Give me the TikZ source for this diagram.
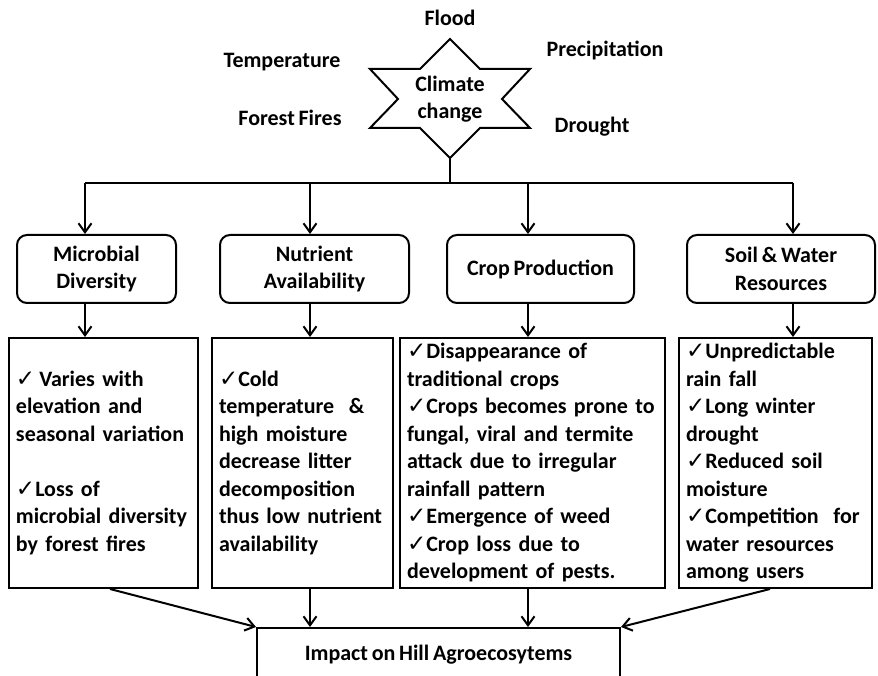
\documentclass[tikz,border=0pt]{standalone}
\usepackage{fontspec}
\setmainfont{Carlito}
\newfontfamily\symfont{DejaVu Sans}
\usetikzlibrary{arrows.meta}

\newcommand{\tick}{{\symfont\mdseries\fontsize{23}{23}\selectfont ✓}}
\newcommand{\tightwords}{\spaceskip=0.17em plus 0.1em minus 0.05em\relax}

\begin{document}
\begin{tikzpicture}[x=1pt, y=-1pt,
    every node/.style={font=\bfseries\fontsize{22}{27.5}\selectfont\tightwords},
    arr/.style={-{Straight Barb[length=9pt,width=13pt]}, line width=2pt},
    head/.style={draw, line width=2pt, rounded corners=10pt, align=center,
                 minimum height=68pt, inner sep=0pt},
    detail/.style={draw, line width=2pt, align=left, minimum height=250pt,
                   inner xsep=7pt, inner ysep=0pt}]

    \useasboundingbox (0,0) rectangle (878,676);

    % Climate change star
    \draw[line width=2pt] (450,39) -- (480,69) -- (530,69) -- (502,99)
        -- (530,128) -- (480,128) -- (450,158) -- (420,128) -- (370,128)
        -- (398,99) -- (370,69) -- (420,69) -- cycle;
    \node[align=center] (climate) at (450,99) {Climate\\change};
    \coordinate (starbot) at (450,158);

    % Drivers round the star
    \node (flood) at (450,18) {Flood};
    \node (temp) at (282,62) {Temperature};
    \node (precip) at (605,50) {Precipitation};
    \node (fires) at (290,118) {Forest Fires};
    \node (drought) at (592,127) {Drought};

    % Distribution bar
    \coordinate (tap) at (450,183);
    \coordinate (tA) at (85,183);
    \coordinate (tB) at (310,183);
    \coordinate (tC) at (528,183);
    \coordinate (tD) at (793,183);
    \draw[line width=2pt] (starbot) -- (tap);
    \draw[line width=2pt] (tA) -- (tD);

    % Sectors
    \node[head, minimum width=159pt] (micro) at (96.5,269) {Microbial\\Diversity};
    \node[head, minimum width=189pt] (nutr) at (314.5,269) {Nutrient\\Availability};
    \node[head, minimum width=187pt] (crop) at (540.5,269) {Crop Production};
    \node[head, minimum width=188pt] (soil) at (781,269) {Soil \& Water\\Resources};

    \draw[arr] (tA) -- (tA |- micro.north);
    \draw[arr] (tB) -- (tB |- nutr.north);
    \draw[arr] (tC) -- (tC |- crop.north);
    \draw[arr] (tD) -- (tD |- soil.north);

    % Effects
    \node[detail, text width=175pt] (dmicro) at (103.5,463)
        {\tick\hspace{4pt}Varies with\\elevation and\\seasonal variation\\[27.5pt]
         \tick Loss of\\microbial diversity\\by forest fires};
    \node[detail, text width=167pt] (dnutr) at (302.5,463)
        {\tick Cold\\temperature\ \ \&\\high moisture\\decrease litter\\
         decomposition\\thus low nutrient\\availability};
    \node[detail, text width=251pt] (dcrop) at (532.5,463)
        {\tick Disappearance of\\traditional crops\\
         \tick Crops becomes prone to\\fungal, viral and termite\\
         attack due to irregular\\rainfall pattern\\
         \tick Emergence of weed\\
         \tick Crop loss due to\\development of pests.};
    \node[detail, text width=179pt] (dsoil) at (775.5,463)
        {\tick Unpredictable\\rain fall\\
         \tick Long winter\\drought\\
         \tick Reduced soil\\moisture\\
         \tick Competition\ \ for\\water resources\\among users};

    \draw[arr] (tA |- micro.south) -- (tA |- dmicro.north);
    \draw[arr] (tB |- nutr.south) -- (tB |- dnutr.north);
    \draw[arr] (tC |- crop.south) -- (tC |- dcrop.north);
    \draw[arr] (tD |- soil.south) -- (tD |- dsoil.north);

    % Overall impact
    \node[draw, line width=2pt, anchor=north, minimum width=363pt,
          inner ysep=17pt] (impact) at (438.5,627) {Impact on Hill Agroecosytems};

    \draw[arr] ([xshift=6.5pt]dmicro.south) -- (impact.north west);
    \draw[arr] (tB |- dnutr.south) -- (tB |- impact.north);
    \draw[arr] (tC |- dcrop.south) -- (tC |- impact.north);
    \draw[arr] ([xshift=-5.5pt]dsoil.south) -- (impact.north east);

\end{tikzpicture}
\end{document}
